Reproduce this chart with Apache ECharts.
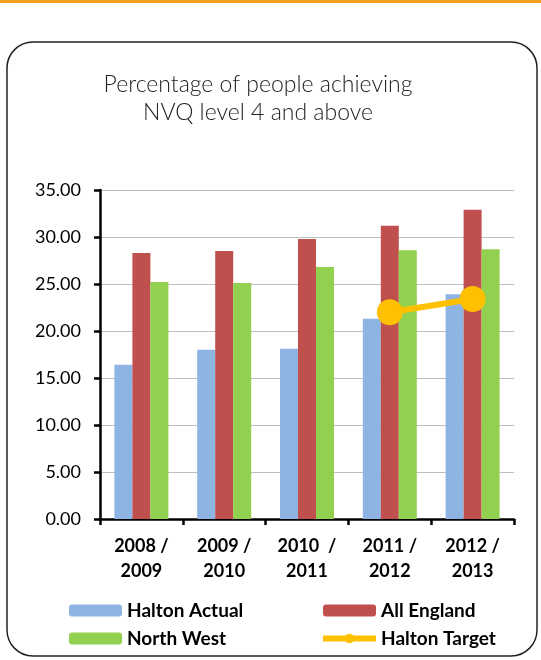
<!DOCTYPE html>
<html><head><meta charset="utf-8">
<script src="https://cdn.jsdelivr.net/npm/echarts@6/dist/echarts.min.js"></script>
<style>html,body{margin:0;padding:0;background:#fff}#c{width:541px;height:660px}</style>
</head><body><div id="c"></div>
<script>
var categories = ['2008 /\n2009', '2009 /\n2010', '2010  /\n2011', '2011 /\n2012', '2012 /\n2013'];
var haltonActual = [16.4, 18.0, 18.1, 21.3, 23.9];
var allEngland = [28.3, 28.5, 29.8, 31.2, 32.9];
var northWest = [25.2, 25.1, 26.8, 28.6, 28.7];
var haltonTarget = [null, null, null, 22.0, 23.4];
var yTicks = {min: 0, max: 35, interval: 5};

var chart = echarts.init(document.getElementById('c'), null, {renderer: 'canvas'});
var font = 'Lato, "Liberation Sans", sans-serif';
chart.setOption({
  animation: false,
  graphic: [
    {type: 'rect', shape: {x: 0, y: 0, width: 541, height: 3}, style: {fill: '#F5A01A'}},
    {type: 'rect', shape: {x: 7, y: 42, width: 530, height: 614, r: 26}, style: {fill: 'none', stroke: '#222', lineWidth: 1.5}}
  ],
  title: {
    text: 'Percentage of people achieving\nNVQ level 4 and above',
    left: 258, top: 71, textAlign: 'center', padding: 0,
    textStyle: {fontFamily: font, fontSize: 23, fontWeight: 300, color: '#222', lineHeight: 28}
  },
  legend: [
    {left: 69, top: 601, orient: 'vertical', itemWidth: 53, itemHeight: 12, itemGap: 9, padding: 0,
     data: ['Halton Actual', 'North West'],
     textStyle: {fontFamily: font, fontSize: 19, color: '#000', fontWeight: 'bold'}},
    {left: 320, top: 601, orient: 'vertical', itemWidth: 53, itemHeight: 12, itemGap: 9, padding: 0,
     data: ['All England', {name: 'Halton Target', lineStyle: {width: 6, color: '#FFC000'}}],
     textStyle: {fontFamily: font, fontSize: 19, color: '#000', fontWeight: 'bold'}}
  ],
  grid: {left: 100, right: 27, top: 190, bottom: 141},
  xAxis: {
    type: 'category', data: categories,
    axisLine: {lineStyle: {color: '#000', width: 2.5}},
    axisTick: {show: true, length: 6, lineStyle: {color: '#000', width: 2.5}},
    axisLabel: {fontFamily: font, fontSize: 18, color: '#000', fontWeight: 'bold', lineHeight: 25, margin: 15}
  },
  yAxis: {
    type: 'value', min: yTicks.min, max: yTicks.max, interval: yTicks.interval,
    axisLine: {show: true, lineStyle: {color: '#000', width: 2.5}},
    axisTick: {show: true, length: 6, lineStyle: {color: '#000', width: 2.5}},
    splitLine: {lineStyle: {color: '#BEBEBE', width: 1.2}},
    axisLabel: {fontFamily: font, fontSize: 18, color: '#000', margin: 19,
      formatter: function (v) { return v.toFixed(2); }}
  },
  series: [
    {name: 'Halton Actual', type: 'bar', data: haltonActual, barWidth: 18, barGap: '0%', itemStyle: {color: '#8EB4E3'}},
    {name: 'All England', type: 'bar', data: allEngland, barWidth: 18, barGap: '0%', itemStyle: {color: '#C0504D'}},
    {name: 'North West', type: 'bar', data: northWest, barWidth: 18, barGap: '0%', itemStyle: {color: '#92D050'}},
    {name: 'Halton Target', type: 'line', data: haltonTarget, symbol: 'circle', symbolSize: 26,
     lineStyle: {color: '#FFC000', width: 6}, itemStyle: {color: '#FFC000'}, connectNulls: false, z: 5}
  ]
});
</script></body></html>
